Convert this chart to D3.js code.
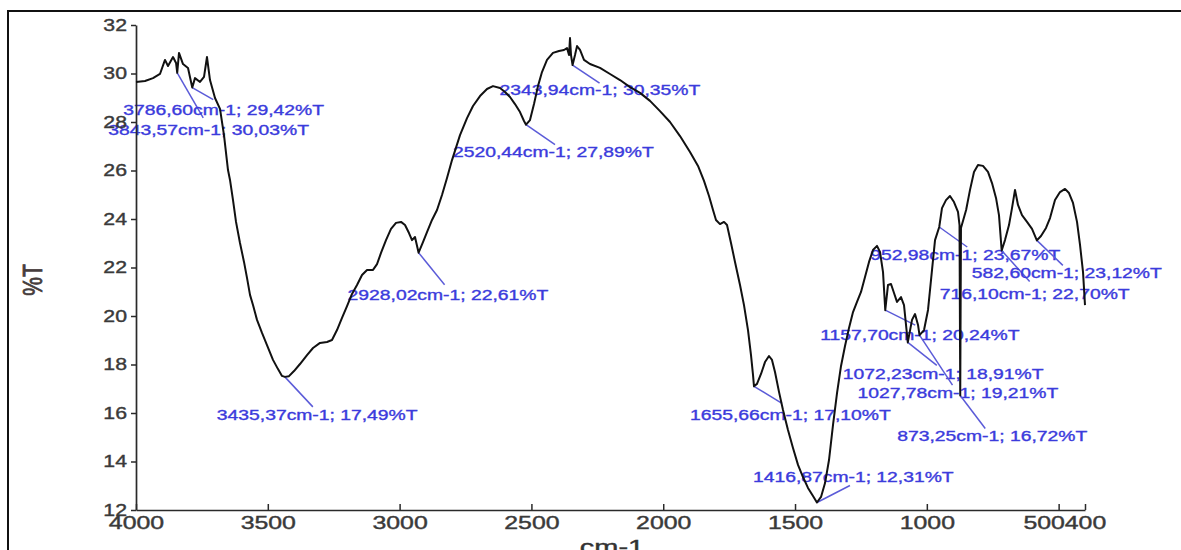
<!DOCTYPE html>
<html><head><meta charset="utf-8">
<script src="https://cdn.jsdelivr.net/npm/d3@7"></script>
<style>html,body{margin:0;padding:0;background:#fff;overflow:hidden}</style>
</head><body>
<svg id="chart" width="1181" height="550"></svg>
<script>
// FTIR transmittance spectrum (cm-1 vs %T)
const wavenumbers = [4000,3965.9,3935.5,3909,3890,3878.6,3859.6,3848,3836.9,3821.7,3802.7,3776.2,3757.2,3742.0,3730.7,3719.3,3700.3,3681.3,3666.2,3651.0,3643.4,3632.0,3620.6,3605.5,3590.3,3578.9,3567.5,3556.2,3541.0,3522.0,3503.1,3480.3,3461.3,3446.2,3419.6,3400.6,3377.9,3351.3,3328.5,3302.0,3275.4,3256.5,3237.5,3218.5,3199.5,3180.6,3161.6,3142.6,3123.6,3100.9,3085.7,3070.6,3051.6,3032.6,3013.7,2994.7,2979.5,2964.4,2953.0,2941.6,2911.3,2896.1,2877.1,2858.1,2839.2,2820.2,2801.2,2770.9,2744.3,2721.6,2695.0,2668.5,2645.7,2619.2,2600.2,2581.2,2562.3,2543.3,2528.1,2505.4,2490.2,2475.1,2459.9,2440.9,2418.2,2395.4,2376.4,2365.0,2357.4,2353.6,2349.8,2334.6,2327.0,2315.6,2300.5,2277.7,2239.8,2201.8,2163.9,2126.0,2088.0,2050.1,2012.2,1974.2,1936.3,1898.4,1868.0,1845.3,1826.3,1811.1,1799.8,1784.6,1769.4,1758.0,1742.9,1727.7,1708.7,1693.6,1678.4,1667.0,1659.4,1644.3,1629.1,1613.9,1598.8,1587.4,1576.0,1560.8,1545.6,1526.7,1507.7,1488.7,1469.8,1450.8,1431.8,1401.4,1386.2,1371.1,1355.9,1340.7,1325.5,1310.4,1295.2,1280.0,1264.9,1249.7,1234.5,1219.3,1204.2,1189.0,1177.6,1166.2,1147.3,1135.9,1124.5,1113.2,1098.0,1086.6,1056.2,1044.8,1033.4,1010.6,995.5,980.3,968.9,942.5,927.3,912.2,897.0,881.8,876.0,870.5,851,836.2,821.1,805.9,787.0,768.0,752.8,737.6,726.3,703.5,688.3,676.9,665.5,654.2,639.0,620.0,601.0,566.9,547.9,532.7,513.8,494.8,475.8,460.7,445.5,430.3,418.9,407.5,400];
const transmittance = [29.65,29.69,29.81,29.98,30.56,30.31,30.68,30.43,30.85,30.39,30.23,29.81,29.65,29.86,30.68,29.73,28.99,28.54,27.46,26.02,25.61,24.78,23.88,23.01,22.23,21.57,20.87,20.45,19.84,19.30,18.80,18.19,17.81,17.53,17.52,17.73,18.02,18.39,18.68,18.89,18.93,19.01,19.42,19.92,20.41,20.91,21.28,21.69,21.90,21.90,22.14,22.60,23.13,23.59,23.84,23.88,23.75,23.42,23.13,23.26,23.05,23.46,23.96,24.37,24.99,25.69,26.43,27.46,28.16,28.66,29.07,29.36,29.48,29.40,29.24,29.03,28.74,28.41,28.04,28.08,28.74,29.48,30.06,30.56,30.85,30.93,30.97,31.05,30.76,31.46,30.76,30.76,31.13,30.97,30.56,30.39,30.23,29.98,29.73,29.44,29.20,28.87,28.45,28.00,27.42,26.76,26.19,25.57,24.95,24.37,23.96,23.79,23.88,23.75,23.01,22.23,21.28,20.45,19.42,18.39,17.57,17.20,17.61,18.10,18.35,18.19,17.69,16.87,16.12,15.30,14.56,13.86,13.36,12.91,12.58,12.54,13.11,14.06,15.51,16.82,17.94,18.76,19.51,20.16,20.58,20.99,21.61,22.23,22.72,22.89,22.64,21.81,21.28,21.32,20.95,20.58,20.78,20.45,19.84,20.08,19.63,19.42,20.25,21.90,23.13,24.45,24.78,24.95,24.70,24.29,23.75,23.63,24.37,25.20,25.94,26.23,26.19,25.94,25.48,24.87,24.16,23.13,23.75,24.45,25.20,24.58,24.16,23.88,23.59,23.30,23.63,24.04,24.78,25.11,25.24,25.07,24.66,23.88,22.93,21.81,20.45];

// picked peaks
const peakWavenumbers = [3843.57,3786.60,3435.37,2928.02,2520.44,2343.94,1655.66,1416.87,1157.70,1072.23,1027.78,952.98,873.25,716.10,582.60];
const peakTransmittance = [30.03,29.42,17.49,22.61,27.89,30.35,17.10,12.31,20.24,18.91,19.21,23.67,16.72,22.70,23.12];

const xTicks = [4000,3500,3000,2500,2000,1500,1000,500,400];
const yTicks = [12,14,16,18,20,22,24,26,28,30,32];
const xTitle = "cm-1";
const yTitle = "%T";

// label placement: [leader dx, leader dy, text dx, text dy] in px from the peak
const labelLayout = [[26,45,-69,57],[21,12,-69,22],[28,30,-68,38],[26,32,-71,42],[29,20,-73,27],[27,18,-73,25],[28,17,-64,29],[33,-17,-64,-26],[30,15,-65,25],[29,23,-65,32],[33,50,-62,58],[28,20,-69,28],[25,33,-63,40],[28,31,-62,43],[26,25,-65,33]];

const FONT = "'Liberation Sans', Arial, sans-serif";
const STRETCH = 1.38;

const svg = d3.select("#chart");

// outer frame
svg.append("rect").attr("x",8).attr("y",11).attr("width",1300).attr("height",700)
  .attr("fill","none").attr("stroke","#111").attr("stroke-width",2);

const x = d3.scaleLinear().domain([4000,400]).range([136,1085]);
const y = d3.scaleLinear().domain([12,32]).range([510,25]);

const fmt = v => d3.format(".2f")(v).replace(".", ",");

// annotations (drawn beneath the trace)
const ann = svg.append("g");
peakWavenumbers.forEach((w,i) => {
  const px = x(w), py = y(peakTransmittance[i]);
  const [ldx, ldy, tdx, tdy] = labelLayout[i];
  ann.append("line").attr("x1",px).attr("y1",py).attr("x2",px+ldx).attr("y2",py+ldy)
    .attr("stroke","#5b5bd8").attr("stroke-width",1.5);
  ann.append("text")
    .attr("transform",`translate(${px+tdx},${py+tdy}) scale(${STRETCH},1)`)
    .attr("dy","0.36em")
    .attr("font-family",FONT).attr("font-size",14)
    .attr("fill","#3b3bdc").attr("stroke","#3b3bdc").attr("stroke-width",0.35)
    .text(`${fmt(w)}cm-1; ${fmt(peakTransmittance[i])}%T`);
});

// axes
const xAxis = d3.axisBottom(x).tickValues(xTicks).tickSize(-6).tickSizeOuter(0).tickPadding(6).tickFormat(d3.format("d"));
const gx = svg.append("g").attr("transform",`translate(0,${y(12)})`).call(xAxis);
const yAxis = d3.axisLeft(y).tickValues(yTicks).tickSize(5).tickSizeOuter(0).tickPadding(4).tickFormat(d3.format("d"));
const gy = svg.append("g").attr("transform",`translate(${x(4000)},0)`).call(yAxis);

[gx, gy].forEach(g => {
  g.select(".domain").attr("stroke","#2a2a2a").attr("stroke-width",1.7);
  g.selectAll(".tick line").attr("stroke","#2a2a2a").attr("stroke-width",1.5);
  g.selectAll(".tick text").attr("font-family",FONT).attr("fill","#3a3a3a")
    .attr("stroke","#3a3a3a").attr("stroke-width",0.4);
});
gx.selectAll(".tick text").attr("font-size",18).attr("transform",`scale(${STRETCH},1)`);
// the two closely spaced end labels sit side by side
gx.selectAll(".tick text").filter(d => d === 500).attr("x",-15/STRETCH);
gy.selectAll(".tick text").attr("font-size",17).attr("x",-9/1.25).attr("transform","scale(1.25,1)");

// axis titles
svg.append("text").attr("transform",`translate(612,554) scale(1.45,1)`)
  .attr("text-anchor","middle").attr("font-family",FONT).attr("font-size",20)
  .attr("fill","#333").attr("stroke","#333").attr("stroke-width",0.4).text(xTitle);
svg.append("text").attr("transform",`translate(42,280) rotate(-90) scale(1,1.35)`)
  .attr("text-anchor","middle").attr("font-family",FONT).attr("font-size",21)
  .attr("fill","#463c3c").attr("stroke","#463c3c").attr("stroke-width",0.6).text(yTitle);

// spectrum trace, with the picked peaks merged in
const pts = wavenumbers.map((w,i) => [w, transmittance[i]])
  .concat(peakWavenumbers.map((w,i) => [w, peakTransmittance[i]]))
  .sort((a,b) => b[0]-a[0]);
const line = d3.line().x(d => x(d[0])).y(d => y(d[1])).curve(d3.curveLinear);
svg.append("path").datum(pts).attr("d",line)
  .attr("fill","none").attr("stroke","#111").attr("stroke-width",2).attr("stroke-linejoin","round");
</script>
</body></html>
